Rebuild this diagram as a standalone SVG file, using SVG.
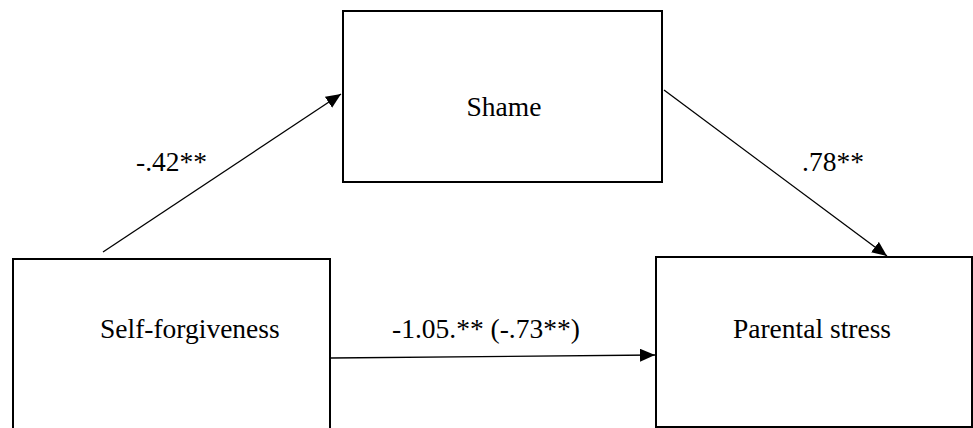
<svg xmlns="http://www.w3.org/2000/svg" width="973" height="428" viewBox="0 0 973 428">
<style>
.box{fill:#fff;stroke:#000;stroke-width:2}
.lbl{font-size:27.5px;fill:#000}
.edge{stroke:#000;stroke-width:1.3;fill:none}
</style>
<defs>
<marker id="ah" markerUnits="userSpaceOnUse" markerWidth="16" markerHeight="14" refX="15" refY="6.5" orient="auto">
<path d="M0,0 L15,6.5 L0,13 Z" fill="#000"/>
</marker>
</defs>
<rect width="973" height="428" fill="#fff"/>
<g font-family="'Liberation Serif', 'DejaVu Serif', serif">
<g id="shame">
<rect class="box" x="343" y="11" width="319" height="171"/>
<text class="lbl" x="504" y="116" text-anchor="middle">Shame</text>
</g>
<g id="self-forgiveness">
<rect class="box" x="13" y="259" width="317" height="180"/>
<text class="lbl" x="100" y="338">Self-forgiveness</text>
</g>
<g id="parental-stress">
<rect class="box" x="656" y="257" width="316" height="170"/>
<text class="lbl" x="812" y="338" text-anchor="middle">Parental stress</text>
</g>
<g id="connectors">
<line class="edge" x1="103" y1="252" x2="341" y2="94" marker-end="url(#ah)"/>
<line class="edge" x1="664" y1="90" x2="887" y2="256" marker-end="url(#ah)"/>
<line class="edge" x1="331" y1="358" x2="655" y2="355" marker-end="url(#ah)"/>
<text class="lbl" x="136" y="171">-.42**</text>
<text class="lbl" x="802" y="171">.78**</text>
<text class="lbl" x="392" y="338">-1.05.** (-.73**)</text>
</g>
</g>
</svg>
